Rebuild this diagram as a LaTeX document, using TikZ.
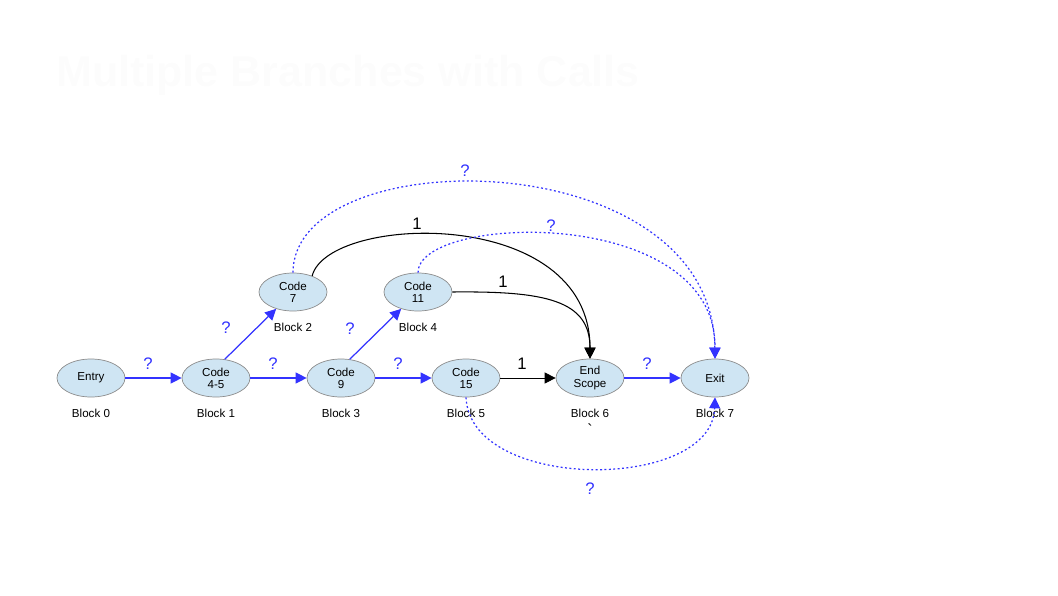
\documentclass[tikz,border=0pt]{standalone}
\usepackage{fontspec}
\setmainfont{Liberation Sans}
\usetikzlibrary{shapes.geometric,arrows.meta,positioning}
\definecolor{cellfill}{RGB}{207,229,243}
\definecolor{flow}{RGB}{51,51,255}
\begin{document}
\begin{tikzpicture}[x=0.02cm,y=-0.02cm,
  blk/.style={ellipse,draw=black!45,fill=cellfill,minimum width=1.36cm,minimum height=0.76cm,inner sep=0pt,align=center,font=\fontsize{6.6}{7}\selectfont},
  blab/.style={font=\fontsize{6.6}{8}\selectfont,inner sep=1pt},
  q/.style={font=\fontsize{9.5}{11}\selectfont,text=flow,inner sep=1pt},
  one/.style={font=\fontsize{9.5}{11}\selectfont,inner sep=1pt},
  fl/.style={draw=flow,line width=0.7pt,-{Triangle[length=2.2mm,width=2.2mm]}},
  jmp/.style={draw=black,line width=0.6pt,-{Triangle[length=2.2mm,width=2.2mm]}},
  cl/.style={fl,dash pattern=on 1.1pt off 1.4pt}]
  \useasboundingbox (0,0) rectangle (1058,595);
  % title, almost invisible
  \node[anchor=west,text=black!1,font=\fontsize{24.5}{30}\selectfont\bfseries] (title) at (50,75) {Multiple Branches with Calls};
  % blocks on the main line
  \node[blk] (en) at (91,378) {Entry};
  \node[blk] (c45) at (216,378) {Code\\4-5};
  \node[blk] (c9) at (341,378) {Code\\9};
  \node[blk] (c15) at (466,378) {Code\\15};
  \node[blk] (es) at (590,378) {End\\Scope};
  \node[blk] (ex) at (715,378) {Exit};
  % blocks above
  \node[blk] (c7) at (293,292) {Code\\7};
  \node[blk] (c11) at (418,292) {Code\\11};
  % block numbers
  \node[blab,below=5.8mm] (b0) at (en) {Block 0};
  \node[blab,below=5.8mm] (b1) at (c45) {Block 1};
  \node[blab,below=5.8mm] (b2) at (c7) {Block 2};
  \node[blab,below=5.8mm] (b3) at (c9) {Block 3};
  \node[blab,below=5.8mm] (b4) at (c11) {Block 4};
  \node[blab,below=5.8mm] (b5) at (c15) {Block 5};
  \node[blab,below=5.8mm] (b6) at (es) {Block 6};
  \node[blab,below=5.8mm] (b7) at (ex) {Block 7};
  \node[blab,font=\fontsize{9}{10}\selectfont] (tick) at (590,430) {\textasciigrave};
  % straight flow
  \draw[fl] (en) -- (c45);
  \draw[fl] (c45) -- (c9);
  \draw[fl] (c9) -- (c15);
  \draw[fl] (es) -- (ex);
  \draw[fl] (c45.65) -- (c7.225);
  \draw[fl] (c9.65) -- (c11.225);
  \draw[jmp,line width=0.45pt] (c15) -- (es);
  % jumps to end of scope
  \draw[jmp] (c7.40) .. controls (328,214) and (590,205) .. (es.north);
  \draw[jmp] (c11.east) .. controls (545,291) and (590,300) .. (es.north);
  % calls to exit
  \draw[cl] (c7.north) .. controls (293,140) and (712,140) .. (ex.north);
  \draw[cl] (c11.north) .. controls (418,214) and (716,204) .. (ex.north);
  \draw[cl] (c15.south) .. controls (470,492) and (712,492) .. (ex.south);
  % edge labels
  \node[q] (q1) at (148,364) {?};
  \node[q] (q2) at (226,328) {?};
  \node[q] (q3) at (273,364) {?};
  \node[q] (q4) at (350,329) {?};
  \node[q] (q5) at (398,364) {?};
  \node[q] (q6) at (647,364) {?};
  \node[q] (q7) at (465,171) {?};
  \node[q] (q8) at (551,226) {?};
  \node[q] (q9) at (590,489) {?};
  \node[one] (o1) at (522,364) {1};
  \node[one] (o2) at (417,224) {1};
  \node[one] (o3) at (503,282) {1};
\end{tikzpicture}
\end{document}
